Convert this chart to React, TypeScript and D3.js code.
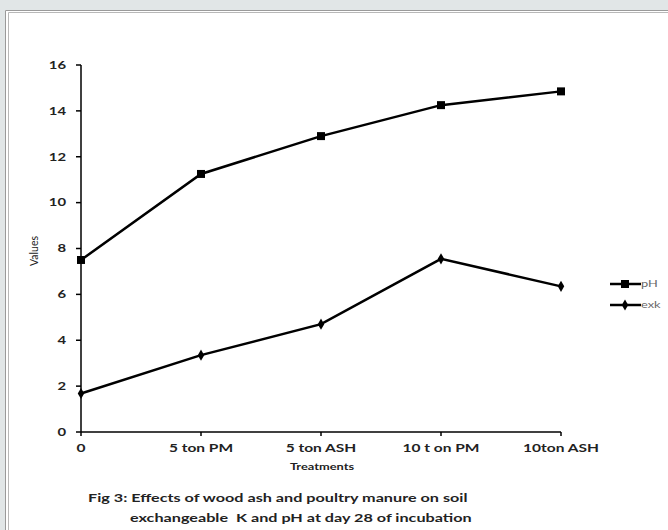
import React from "react";
import * as d3 from "d3";

const categories = ["0", "5 ton PM", "5 ton ASH", "10 ton PM", "10ton ASH"];
const catLabels = ["0", "5 ton PM", "5 ton ASH", "10 t on PM", "10ton ASH"];
const phValues = [7.5, 11.25, 12.9, 14.25, 14.85];
const exkValues = [1.68, 3.35, 4.7, 7.55, 6.35];
const yTicks = [0, 2, 4, 6, 8, 10, 12, 14, 16];
const seriesNames = ["pH", "exk"];

const W = 668;
const H = 530;
const FONT = "Lato, 'Open Sans', 'Liberation Sans', sans-serif";
const SX = 1.35;

function SText(props: {
  x: number;
  y: number;
  size: number;
  anchor?: string;
  bold?: boolean;
  fill?: string;
  dy?: string;
  children: React.ReactNode;
}) {
  const { x, y, size, anchor = "start", bold = true, fill = "#222", dy, children } = props;
  return (
    <g transform={`translate(${x},${y}) scale(${SX},1)`}>
      <text
        x={0}
        y={0}
        dy={dy}
        textAnchor={anchor}
        fontSize={size}
        fontWeight={bold ? "bold" : "normal"}
        fill={fill}
        style={{ whiteSpace: "pre" }}
      >
        {children}
      </text>
    </g>
  );
}

export default function App() {
  const x = d3.scalePoint<string>().domain(categories).range([81, 561]);
  const y = d3.scaleLinear().domain([0, 16]).range([432, 65]);
  const line = d3
    .line<number>()
    .x((_, i) => x(categories[i]) as number)
    .y((d) => y(d));

  const square = d3.symbol().type(d3.symbolSquare).size(64)();
  const diamond = d3.symbol().type(d3.symbolDiamond).size(36)();

  return (
    <svg
      width={W}
      height={H}
      style={{ position: "absolute", left: 0, top: 0, display: "block" }}
      fontFamily={FONT}
    >
      <rect x={0} y={0} width={W} height={H} fill="#e1e6e7" />
      <rect x={5} y={10} width={W} height={H} fill="#ffffff" />
      <path d={`M5.5,${H} V10.5 H${W}`} fill="none" stroke="#9a9a9a" strokeWidth={1} />
      <path d={`M8.5,${H} V12.5 H${W}`} fill="none" stroke="#b8b8b8" strokeWidth={1} />

      {/* axes */}
      <line x1={x(categories[0])} x2={x(categories[0])} y1={y(16)} y2={y(0)} stroke="#000" strokeWidth={1.5} />
      <line x1={x(categories[0])} x2={x(categories[4])} y1={y(0)} y2={y(0)} stroke="#000" strokeWidth={1.5} />
      {yTicks.map((t) => (
        <g key={t}>
          <line x1={76} x2={81} y1={y(t)} y2={y(t)} stroke="#000" strokeWidth={1.5} />
          <SText x={66} y={y(t)} dy="0.35em" anchor="end" size={11}>
            {t}
          </SText>
        </g>
      ))}
      {categories.map((c, i) => (
        <g key={c}>
          <line x1={x(c)} x2={x(c)} y1={y(0)} y2={y(0) + 4} stroke="#000" strokeWidth={1.5} />
          <SText x={x(c) as number} y={452} anchor="middle" size={11.5}>
            {catLabels[i]}
          </SText>
        </g>
      ))}
      <SText x={322} y={470} anchor="middle" size={9.5}>
        Treatments
      </SText>
      <text
        transform={`translate(38,251) rotate(-90)`}
        textAnchor="middle"
        fontSize={10.5}
        fill="#222"
      >
        Values
      </text>

      {/* series */}
      <path d={line(phValues) || ""} fill="none" stroke="#000" strokeWidth={2.5} />
      <path d={line(exkValues) || ""} fill="none" stroke="#000" strokeWidth={2.5} />
      {phValues.map((v, i) => (
        <path key={"p" + i} d={square || ""} transform={`translate(${x(categories[i])},${y(v)})`} fill="#000" />
      ))}
      {exkValues.map((v, i) => (
        <path key={"e" + i} d={diamond || ""} transform={`translate(${x(categories[i])},${y(v)})`} fill="#000" />
      ))}

      {/* legend */}
      {seriesNames.map((s, i) => {
        const ly = 284 + i * 21;
        return (
          <g key={s}>
            <line x1={610} x2={641} y1={ly} y2={ly} stroke="#000" strokeWidth={2.5} />
            <path d={(i === 0 ? square : diamond) || ""} transform={`translate(625,${ly})`} fill="#000" />
            <SText x={641} y={ly} dy="0.35em" size={9.5} bold={false} fill="#666">
              {s}
            </SText>
          </g>
        );
      })}

      {/* caption */}
      <SText x={88} y={502} size={12}>
        Fig 3: Effects of wood ash and poultry manure on soil
      </SText>
      <SText x={130} y={522} size={12}>
        exchangeable  K and pH at day 28 of incubation
      </SText>
    </svg>
  );
}
